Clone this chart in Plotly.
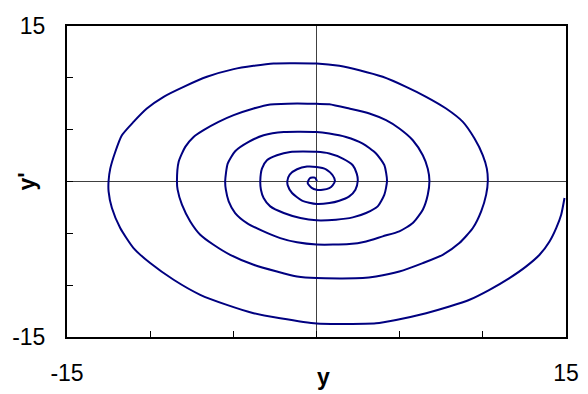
import plotly.graph_objects as go

# phase-plane trajectory, one turn at a time (outer -> inner)
turn1_y = [14.91, 14.71, 14.41, 14.01, 13.41, 12.61, 11.60, 10.40, 9.20, 7.99, 6.59, 4.78, 3.58, 0.0,
           -2.18, -3.78, -5.39, -6.99, -8.59, -10.00, -11.00, -11.80, -12.30, -12.50, -12.50, -12.40,
           -12.10, -11.70, -11.00, -10.20, -9.19, -7.99, -6.59, -4.98, -3.78, -2.58, 0.0, 1.37, 2.58,
           3.98, 5.39, 6.59, 7.79, 8.80, 9.50, 10.00, 10.24, 10.30]
turn1_dy = [-1.59, -3.20, -4.49, -5.78, -7.07, -8.19, -9.32, -10.45, -11.41, -12.06, -12.70, -13.35,
            -13.67, -13.70, -13.19, -12.70, -11.90, -10.93, -9.48, -7.87, -6.42, -4.49, -2.56, -0.95,
            0.05, 1.24, 2.85, 4.46, 5.75, 7.04, 8.17, 9.13, 10.10, 10.84, 11.16, 11.39, 11.38, 11.16,
            10.74, 10.10, 9.13, 8.17, 7.04, 5.75, 4.14, 2.53, 1.24, 0.07]

turn2_y = [10.20, 9.90, 9.40, 8.59, 7.59, 6.39, 4.98, 3.58, 2.78, 0.0, -1.17, -2.38, -3.78, -5.19,
           -6.19, -6.99, -7.59, -8.09, -8.35, -8.39, -8.29, -7.89, -7.39, -6.79, -5.89, -4.98, -3.78,
           -2.78, -1.17, 0.0, 0.77, 1.97, 3.18, 4.18, 4.98, 5.79, 6.39, 6.69, 6.79]
turn2_dy = [-1.27, -2.88, -4.49, -5.94, -7.07, -7.87, -8.68, -9.16, -9.32, -9.32, -9.16, -8.68, -8.03,
            -7.07, -6.10, -5.13, -3.85, -2.24, -0.79, 0.05, 1.89, 3.34, 4.30, 4.95, 5.75, 6.40, 7.04,
            7.43, 7.53, 7.49, 7.46, 7.04, 6.56, 5.91, 5.11, 3.98, 2.53, 1.24, 0.07]

turn3_y = [6.69, 6.39, 5.79, 4.98, 3.98, 2.98, 1.97, 0.0, -1.17, -2.18, -3.18, -4.18, -4.89, -5.28,
           -5.45, -5.49, -5.34, -4.89, -4.08, -3.18, -1.97, 0.0, 0.77, 1.77, 2.78, 3.58, 4.08, 4.24]
turn3_dy = [-1.27, -2.72, -4.01, -4.81, -5.29, -5.78, -6.04, -6.08, -5.87, -5.46, -4.81, -4.01, -3.04,
            -1.91, -0.79, 0.05, 1.73, 2.92, 3.82, 4.46, 4.78, 4.78, 4.63, 4.30, 3.66, 2.70, 1.57, 0.07]

turn4_y = [4.08, 3.68, 2.98, 2.18, 1.17, 0.0, -0.97, -1.97, -2.78, -3.18, -3.34, -3.38, -3.28, -2.98,
           -2.38, -1.58, 0.0, 0.77, 1.58, 2.18, 2.42, 2.48]
turn4_dy = [-1.27, -2.40, -3.04, -3.46, -3.68, -3.74, -3.52, -3.04, -2.40, -1.59, -0.79, 0.05, 1.24,
            2.05, 2.53, 2.85, 2.86, 2.70, 2.21, 1.57, 0.76, 0.07]

turn5_y = [2.34, 1.97, 1.37, 0.77, 0.0, -0.87, -1.47, -1.73, -1.75, -1.61, -1.17, -0.57, 0.0, 0.57,
           0.97, 1.11]
turn5_dy = [-0.79, -1.43, -1.85, -2.08, -2.17, -1.85, -1.11, -0.37, 0.07, 0.67, 1.18, 1.44, 1.40,
            1.18, 0.60, 0.07]

turn6_y = [0.97, 0.77, 0.37, 0.0, -0.29, -0.53, -0.40, -0.10, 0.03]
turn6_dy = [-0.37, -0.63, -0.79, -0.79, -0.62, -0.15, 0.32, 0.38, 0.05]

tick_vals = [-15, -10, -5, 0, 5, 10, 15]
tick_text = ["-15", "", "", "", "", "", "15"]

y_all = turn1_y + turn2_y + turn3_y + turn4_y + turn5_y + turn6_y
dy_all = turn1_dy + turn2_dy + turn3_dy + turn4_dy + turn5_dy + turn6_dy

FONT = "Liberation Sans, Arial, sans-serif"

fig = go.Figure(go.Scatter(
    x=y_all, y=dy_all, mode="lines",
    line=dict(color="#000080", width=2, shape="spline", smoothing=0.6),
    showlegend=False, hoverinfo="skip",
))

axis_common = dict(
    range=[-15, 15], tickvals=tick_vals, ticktext=tick_text,
    ticks="inside", ticklen=6, tickwidth=1, tickcolor="#000000",
    showgrid=False, zeroline=True, zerolinecolor="#404040", zerolinewidth=1,
    showline=True, linecolor="#000000", linewidth=2, mirror=True,
    tickfont=dict(family=FONT, size=23, color="#000000"),
    automargin=False,
)

# page body has an 8px margin, so the figure is 8px smaller each way
fig.update_layout(
    width=580, height=386,
    margin=dict(l=59, r=22, t=18, b=57),
    paper_bgcolor="white", plot_bgcolor="white",
    xaxis=dict(axis_common, ticklabelstandoff=14),
    yaxis=dict(axis_common, ticklabelstandoff=15),
    annotations=[
        dict(text="<b>y</b>", x=0.4, y=-15, xref="x", yref="y", yshift=-40,
             xanchor="center", yanchor="middle",
             showarrow=False, font=dict(family=FONT, size=23, color="#000000")),
        dict(text="<b>y'</b>", x=0, y=0.5, xref="paper", yref="paper", xshift=-41,
             xanchor="center", yanchor="middle",
             textangle=-90, showarrow=False, font=dict(family=FONT, size=23, color="#000000")),
    ],
)

fig.write_html("out.html")
